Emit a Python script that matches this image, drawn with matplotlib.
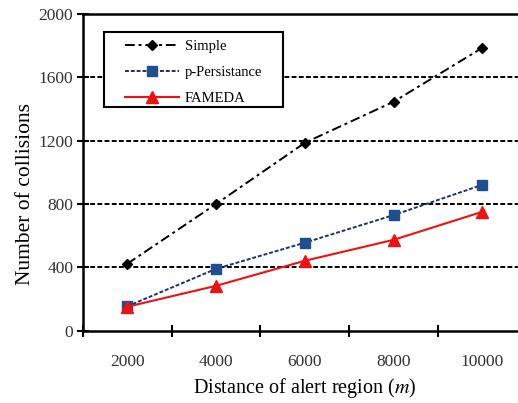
import matplotlib.pyplot as plt
from matplotlib.patches import Rectangle
import numpy as np

plt.rcParams['font.family'] = ['Liberation Serif', 'DejaVu Serif']
plt.rcParams['mathtext.fontset'] = 'stix'

distances = ['2000', '4000', '6000', '8000', '10000']
simple = [423, 800, 1186, 1445, 1785]
p_persist = [155, 391, 556, 730, 921]
fameda = [152, 284, 442, 574, 751]

fig = plt.figure(figsize=(5.18, 4.03), dpi=100)
ax = fig.add_axes([0.160, 0.179, 0.857, 0.787])

x = np.arange(1, len(distances) + 1)

# horizontal dashed grid
for yv in [400, 800, 1200, 1600]:
    ax.axhline(yv, color='black', lw=1.4, ls=(0, (2.5, 1.2)), zorder=1)

ax.plot(x, simple, color='black', lw=1.4, ls=(0, (5, 2, 1.5, 2)),
        marker='D', ms=5.5, label='Simple', zorder=3)
ax.plot(x, p_persist, color='#1c2f6e', lw=1.4, ls=(0, (2, 1)),
        marker='s', ms=7.5, mfc='#1f4f8f', mec='#1f4f8f', label='p-Persistance', zorder=3)
ax.plot(x, fameda, color='#ee1111', lw=1.5, ls='-',
        marker='^', ms=8, mfc='#ee1111', mec='#ee1111', label='FAMEDA', zorder=3)

ax.set_xlim(0.5, 5.5)
ax.set_ylim(0, 2000)
ax.set_yticks([0, 400, 800, 1200, 1600, 2000])
ax.tick_params(axis='y', direction='inout', length=8, width=1.5, labelsize=12.5,
               labelcolor='#333333', pad=3)

# ticks sit on category boundaries, labels on category centres
ax.set_xticks(np.arange(0.5, 6.0, 1.0))
ax.set_xticklabels([])
ax.set_xticks(x, minor=True)
ax.set_xticklabels(distances, minor=True)
ax.tick_params(axis='x', which='major', direction='inout', length=8, width=1.5)
ax.tick_params(axis='x', which='minor', length=0, labelsize=12.5,
               labelcolor='#333333', pad=17)

for side in ['left', 'bottom', 'top']:
    ax.spines[side].set_linewidth(1.8)
ax.spines['right'].set_visible(False)

ax.set_ylabel('Number of collisions', fontsize=15.5)
ax.yaxis.set_label_coords(-0.108, 0.43)
ax.set_xlabel('Distance of alert region ($m$)', fontsize=14.5, labelpad=4)

# legend box drawn separately so it can be wider than the entries
ax.add_patch(Rectangle((0.047, 0.707), 0.404, 0.236, transform=ax.transAxes,
                       fill=True, fc='white', ec='black', lw=1.5, zorder=4))
leg = ax.legend(loc='upper left', bbox_to_anchor=(0.095, 0.918), fontsize=10.5,
                frameon=False, handlelength=3.7, borderpad=0, labelspacing=0.87,
                handletextpad=0.4, borderaxespad=0)
leg.set_zorder(5)

fig.savefig('out.png', dpi=100)
